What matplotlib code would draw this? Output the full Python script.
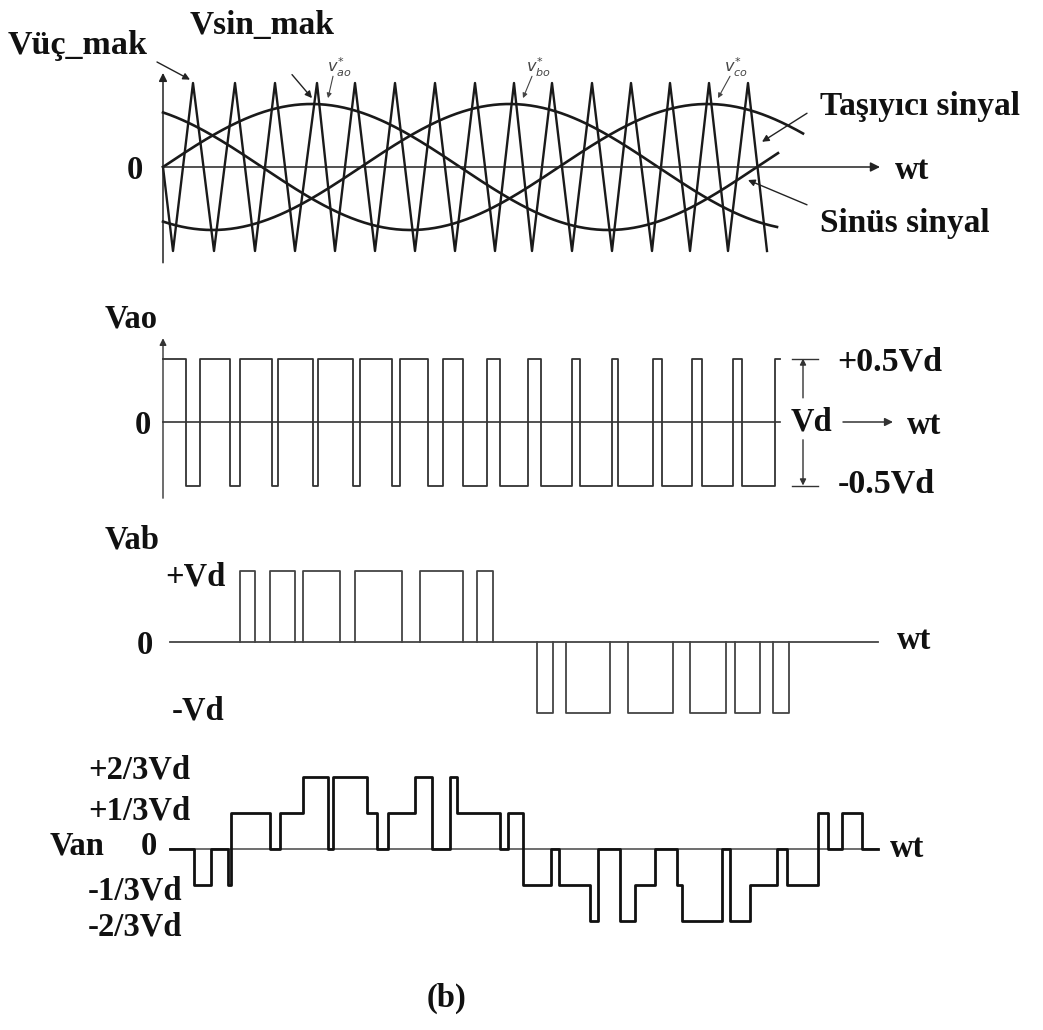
import numpy as np
import matplotlib
matplotlib.use("Agg")
import matplotlib.pyplot as plt

W, H = 1043, 1030

# carrier (triangle) vertices, normalised to carrier peak = 1
carrier_x = [163, 173, 193, 214, 235, 255, 275, 295, 317, 335, 355, 375, 395, 415, 435, 455,
             475, 495, 514, 532, 552, 572, 592, 612, 631, 652, 670, 690, 709, 728, 748, 767]
carrier_level = [0] + [-1, 1] * 15 + [-1]

# reference sines
sine_amp = 0.75
sine_start = 163
sine_period = 594
sine_phase = [0, -120, -240]      # va, vb, vc (deg)
sine_end = [778, 777, 803]

# Vao: starts high at x=163, toggles at these positions
vao_start, vao_stop = 163, 780
vao_switch = [186, 200, 230, 240, 272, 278, 313, 318, 353, 360, 392, 400, 428, 443, 463, 487,
              500, 528, 541, 572, 580, 612, 618, 653, 662, 692, 702, 733, 742, 775]

# Vab pulses (start, end)
vab_pos = [(240, 255), (270, 295), (303, 340), (355, 402), (420, 463), (477, 493)]
vab_neg = [(537, 553), (566, 610), (628, 673), (690, 726), (735, 760), (773, 789)]
vab_start, vab_stop = 170, 878

# Van steps, level in units of Vd/3
van_x = [170, 194, 211, 228, 231, 270, 280, 303, 328, 333, 367, 377, 388, 415, 432, 450, 457,
         500, 508, 523, 551, 559, 590, 598, 620, 635, 655, 677, 682, 722, 730, 750, 777, 787,
         818, 828, 842, 862, 878]
van_level = [0, -1, 0, -1, 1, 0, 1, 2, 0, 2, 1, 0, 1, 2, 0, 2, 1,
             0, 1, -1, 0, -1, -2, 0, -2, -1, 0, -1, -2, 0, -2, -1, 0, -1,
             1, 0, 1, 0, 0]

SERIF = "Liberation Serif"
FS = 23.5

fig = plt.figure(figsize=(W / 100, H / 100), dpi=100)
fig.patch.set_facecolor("white")


def add_panel(top, bottom, zero, unit):
    ax = fig.add_axes([0, 1 - bottom / H, 1, (bottom - top) / H])
    ax.set_xlim(0, W)
    ax.set_ylim((zero - bottom) / unit, (zero - top) / unit)
    ax.axis("off")
    return ax


def label(ax, x, y, s, ha="left", size=FS):
    # nudge down a little: va=center counts the descender
    ax.annotate(s, (x, y), xytext=(0, -2.5), textcoords="offset points",
                ha=ha, va="center", fontsize=size, fontweight="bold",
                family=SERIF, color="#111111", annotation_clip=False)


def arrow(ax, xy, xytext, lw=1.0, ms=10, color="#222222"):
    ax.annotate("", xy=xy, xytext=xytext,
                arrowprops=dict(arrowstyle="-|>", lw=lw, color=color,
                                mutation_scale=ms, shrinkA=0, shrinkB=0))


# ---- top panel: carrier + sines
ax1 = add_panel(0, 290, 167, 84)
ax1.plot(carrier_x, carrier_level, color="#1a1a1a", lw=1.7)
for ph, xe in zip(sine_phase, sine_end):
    xs = np.linspace(sine_start, xe, 300)
    ax1.plot(xs, sine_amp * np.sin(2 * np.pi * (xs - sine_start) / sine_period + np.radians(ph)),
             color="#1a1a1a", lw=1.9)
arrow(ax1, (880, 0), (163, 0), lw=1.1, ms=14)
arrow(ax1, (163, 1.12), (163, -1.14), lw=1.1, ms=12)
label(ax1, 135, 0, "0", ha="center")
label(ax1, 895, 0, "wt")
label(ax1, 8, 1.49, "Vüç_mak", size=24.5)
label(ax1, 190, 1.73, "Vsin_mak", size=24)
label(ax1, 820, 0.76, "Taşıyıcı sinyal", size=24)
label(ax1, 820, -0.63, "Sinüs sinyal", size=24)
arrow(ax1, (190, 1.04), (157, 1.25))
arrow(ax1, (312, 0.82), (292, 1.10))
arrow(ax1, (762, 0.30), (807, 0.64))
arrow(ax1, (748, -0.155), (807, -0.45))
for x0, x1, s in [(333, 328, r"$v^{*}_{ao}$"), (532, 523, r"$v^{*}_{bo}$"), (730, 718, r"$v^{*}_{co}$")]:
    ax1.text(x0 + 6, 1.19, s, ha="center", va="center", fontsize=11.5, color="#444444")
    arrow(ax1, (x1, 0.82), (x0, 1.08), lw=0.8, ms=7, color="#444444")

# ---- Vao panel
ax2 = add_panel(290, 510, 422, 127)
vx = [vao_start] + vao_switch + [vao_stop]
vy = [0.5 if i % 2 == 0 else -0.5 for i in range(len(vao_switch) + 1)]
vy = vy + [vy[-1]]
ax2.plot([vao_start, vao_stop], [0, 0], color="#333333", lw=1.2)
ax2.step(vx, vy, where="post", color="#333333", lw=1.3)
arrow(ax2, (163, 0.66), (163, -0.60), lw=1.0, ms=10, color="#333333")
for yy in (0.5, -0.5):
    ax2.plot([792, 818], [yy, yy], color="#333333", lw=1.0)
arrow(ax2, (803, 0.5), (803, 0.19), lw=1.0, ms=9, color="#333333")
arrow(ax2, (803, -0.5), (803, -0.14), lw=1.0, ms=9, color="#333333")
arrow(ax2, (893, 0), (843, 0), lw=1.1, ms=12, color="#333333")
label(ax2, 105, 0.84, "Vao")
label(ax2, 143, 0, "0", ha="center")
label(ax2, 811, 0.03, "Vd", ha="center")
label(ax2, 907, 0, "wt")
label(ax2, 837, 0.50, "+0.5Vd", size=24.5)
label(ax2, 838, -0.46, "-0.5Vd", size=24.5)

# ---- Vab panel
ax3 = add_panel(515, 735, 642, 71)
ax3.plot([vab_start, vab_stop], [0, 0], color="#444444", lw=1.3)
for a, b in vab_pos:
    ax3.plot([a, a, b, b], [0, 1, 1, 0], color="#444444", lw=1.3)
for a, b in vab_neg:
    ax3.plot([a, a, b, b], [0, -1, -1, 0], color="#444444", lw=1.3)
label(ax3, 105, 1.48, "Vab")
label(ax3, 165, 0.97, "+Vd")
label(ax3, 145, 0, "0", ha="center")
label(ax3, 172, -0.92, "-Vd")
label(ax3, 897, 0.07, "wt")

# ---- Van panel
ax4 = add_panel(740, 1030, 849, 36)
ax4.plot([170, 878], [0, 0], color="#555555", lw=1.2)
ax4.step(van_x, van_level, where="post", color="#111111", lw=2.0)
label(ax4, 88, 2.28, "+2/3Vd")
label(ax4, 88, 1.14, "+1/3Vd")
label(ax4, 50, 0.17, "Van")
label(ax4, 149, 0.17, "0", ha="center")
label(ax4, 88, -1.06, "-1/3Vd")
label(ax4, 88, -2.06, "-2/3Vd")
label(ax4, 890, 0.11, "wt")
label(ax4, 446, -4.06, "(b)", ha="center")

fig.savefig("out.png", dpi=100, facecolor="white")
